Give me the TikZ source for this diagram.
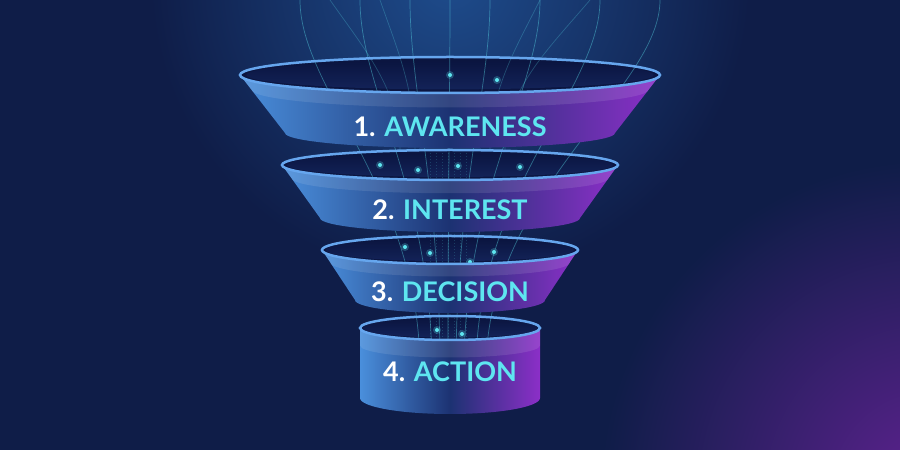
\documentclass[tikz,border=0pt]{standalone}
\usepackage{fontspec}
\setmainfont{Lato}
\definecolor{bgbase}{HTML}{0F1D48}
\definecolor{glow}{HTML}{1E4C8C}
\definecolor{purp}{HTML}{5E2290}
\definecolor{bandL}{HTML}{4A8FDC}
\definecolor{bandM}{HTML}{1C3272}
\definecolor{bandR}{HTML}{8C2FC8}
\definecolor{inner}{HTML}{0B1540}
\definecolor{rim}{HTML}{66A6EE}
\definecolor{cy}{HTML}{5EE6F0}
\tikzset{
  streak/.style={cy, opacity=0.4, line width=0.7pt},
  dotc/.style={fill=cy},
  lbl/.style={font=\fontsize{27}{30}\selectfont\bfseries, text=cy},
}
\newcommand{\bandinner}[4]{%
  \fill[inner] (#1,#2) ellipse[x radius=#3, y radius=#4];
  \shade[top color=inner, bottom color=bandM!70!inner, opacity=0.7] (#1,#2) ellipse[x radius=#3*0.97, y radius=#4*0.8];
}
\newcommand{\bandfront}[8]{%
  \shade[left color=bandL, right color=bandR, middle color=bandM]
    (#1-#3,#2) arc[start angle=180,end angle=360,x radius=#3,y radius=#4]
    -- (#1+#6,#5) arc[start angle=0,end angle=-180,x radius=#6,y radius=#7] -- cycle;
  \fill[white, opacity=0.10]
    (#1-#3,#2) arc[start angle=180,end angle=360,x radius=#3,y radius=#4]
    -- ({#1+0.75*#3+0.25*#6},{0.75*#2+0.25*#5}) arc[start angle=0,end angle=-180,x radius={0.75*#3+0.25*#6},y radius=#4] -- cycle;
  \draw[rim, line width=2.5pt] (#1,#2) ellipse[x radius=#3, y radius=#4];
  \coordinate (#8) at (#1,{(#2+#5)/2-4});
}
\begin{document}
\begin{tikzpicture}[x=1pt,y=1pt]
\useasboundingbox (0,0) rectangle (900,450);
\fill[bgbase] (0,0) rectangle (900,450);
\shade[inner color=glow, outer color=bgbase] (450,470) circle (300);
\shade[inner color=purp, outer color=bgbase] (930,-40) circle (330);
% interiors
\bandinner{450}{122}{90}{12}
\bandinner{450}{200}{128}{14}
\bandinner{450}{285}{168}{15}
\bandinner{450}{375}{210}{18}
% streaks
\foreach \a/\b in {300/420, 360/432, 410/440, 450/448, 490/456, 540/464, 600/476, 660/486}
  \draw[streak] (\a,450) .. controls (\a,360) and (\b,260) .. (\b,80);
\foreach \a/\b in {330/400, 380/415, 540/490, 590/505}
  \draw[streak, opacity=0.25] (\a,450) .. controls ({(\a+\b)/2},400) and (\b,360) .. (\b,300);
\foreach \x/\y in {450/375, 497/370, 380/285, 418/280, 458/284, 520/283, 405/203, 430/197, 470/188, 494/198, 437/120, 462/116}
  { \fill[cy, opacity=0.25] (\x,\y) circle (4); \fill[dotc] (\x,\y) circle (2); }
\foreach \x in {430,436,442,448,454,460,466}
  \draw[cy, opacity=0.18, dash pattern=on 1pt off 2pt] (\x,330) -- (\x,110);
% fronts
\bandfront{450}{122}{90}{12}{52}{90}{16}{b4}
\bandfront{450}{200}{128}{14}{150}{95}{13}{b3}
\bandfront{450}{285}{168}{15}{232}{130}{14}{b2}
\bandfront{450}{375}{210}{18}{317}{165}{15}{b1}
\node[lbl] (t1) at (450,323) {\textcolor{white}{1.} AWARENESS};
\node[lbl] (t2) at (450,240) {\textcolor{white}{2.} INTEREST};
\node[lbl] (t3) at (450,158) {\textcolor{white}{3.} DECISION};
\node[lbl] (t4) at (450,78) {\textcolor{white}{4.} ACTION};
\end{tikzpicture}
\end{document}
